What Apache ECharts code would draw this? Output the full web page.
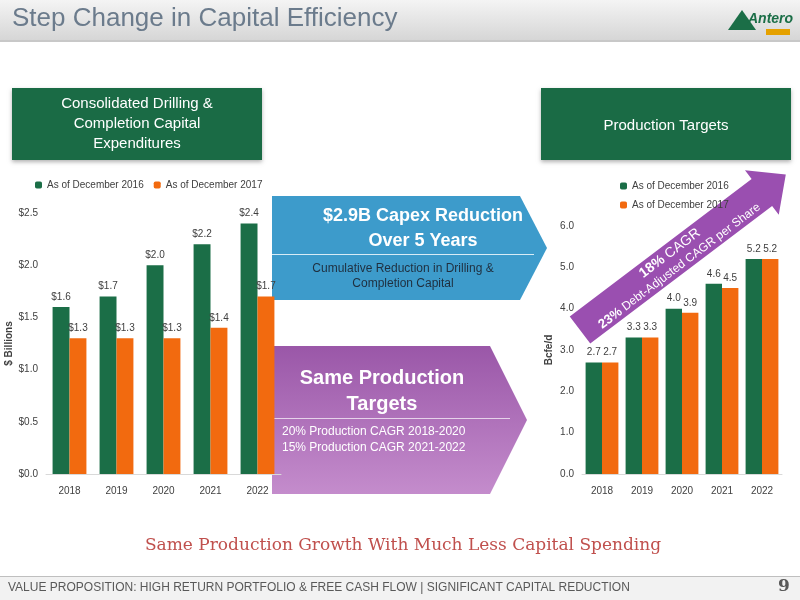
<!DOCTYPE html>
<html lang="en">
<head>
<meta charset="UTF-8">
<title>Step Change in Capital Efficiency</title>
<script src="https://cdn.jsdelivr.net/npm/echarts@6/dist/echarts.min.js"></script>
<style>
  body { margin: 0; }
  #chart { width: 800px; height: 600px; background: #fff; }
</style>
</head>
<body>
<div id="chart"></div>
<script>
var years = ['2018', '2019', '2020', '2021', '2022'];
var capex2016 = [1.6, 1.7, 2.0, 2.2, 2.4];
var capex2017 = [1.3, 1.3, 1.3, 1.4, 1.7];
var prod2016 = [2.7, 3.3, 4.0, 4.6, 5.2];
var prod2017 = [2.7, 3.3, 3.9, 4.5, 5.2];

var green = '#1b6e47', orange = '#f26a0f';
var font = 'Liberation Sans, Arial, sans-serif';

var myChart = echarts.init(document.getElementById('chart'));

function barLabel(fmt) {
  return { show: true, position: 'top', color: '#404040', fontSize: 10, fontFamily: font, formatter: fmt };
}
var dollar = function (p) { return '$' + p.value.toFixed(1); };
var plain = function (p) { return p.value.toFixed(1); };

// rotated purple arrow on the right chart
var ang = Math.atan2(155, 205);

var option = {
  animation: false,
  textStyle: { fontFamily: font },
  legend: [
    { left: 30, top: 175, itemWidth: 7, itemHeight: 7, itemGap: 10,
      textStyle: { fontSize: 10, color: '#404040' },
      data: ['As of December 2016', 'As of December 2017'] },
    { left: 615, top: 176, orient: 'vertical', itemWidth: 7, itemHeight: 7, itemGap: 9,
      textStyle: { fontSize: 10, color: '#404040' },
      data: ['As of December 2016 ', 'As of December 2017 '] }
  ],
  grid: [
    { left: 46, top: 213, width: 235, height: 261 },
    { left: 582, top: 226, width: 200, height: 248 }
  ],
  xAxis: [
    { type: 'category', gridIndex: 0, data: years,
      axisLine: { lineStyle: { color: '#d9d9d9' } }, axisTick: { show: false },
      axisLabel: { color: '#404040', fontSize: 10, margin: 12 } },
    { type: 'category', gridIndex: 1, data: years,
      axisLine: { lineStyle: { color: '#d9d9d9' } }, axisTick: { show: false },
      axisLabel: { color: '#404040', fontSize: 10, margin: 12 } }
  ],
  yAxis: [
    { type: 'value', gridIndex: 0, min: 0, max: 2.5, interval: 0.5,
      name: '$ Billions', nameLocation: 'middle', nameGap: 26,
      nameTextStyle: { fontSize: 10, fontWeight: 'bold', color: '#404040' },
      splitLine: { show: false }, axisLine: { show: false },
      axisLabel: { color: '#404040', fontSize: 10, formatter: function (v) { return '$' + v.toFixed(1); } } },
    { type: 'value', gridIndex: 1, min: 0, max: 6, interval: 1,
      name: 'Bcfe/d', nameLocation: 'middle', nameGap: 28,
      nameTextStyle: { fontSize: 10, fontWeight: 'bold', color: '#404040' },
      splitLine: { show: false }, axisLine: { show: false },
      axisLabel: { color: '#404040', fontSize: 10, formatter: function (v) { return v.toFixed(1); } } }
  ],
  series: [
    { name: 'As of December 2016', type: 'bar', xAxisIndex: 0, yAxisIndex: 0, data: capex2016,
      itemStyle: { color: green }, barGap: '0%', barCategoryGap: '28%', label: barLabel(dollar) },
    { name: 'As of December 2017', type: 'bar', xAxisIndex: 0, yAxisIndex: 0, data: capex2017,
      itemStyle: { color: orange }, label: barLabel(dollar) },
    { name: 'As of December 2016 ', type: 'bar', xAxisIndex: 1, yAxisIndex: 1, data: prod2016,
      itemStyle: { color: green }, barGap: '0%', barCategoryGap: '18%', label: barLabel(plain) },
    { name: 'As of December 2017 ', type: 'bar', xAxisIndex: 1, yAxisIndex: 1, data: prod2017,
      itemStyle: { color: orange }, label: barLabel(plain) }
  ],
  graphic: [
    // header
    { type: 'rect', shape: { x: 0, y: 0, width: 800, height: 40 }, z: -1,
      style: { fill: new echarts.graphic.LinearGradient(0, 0, 0, 1, [
        { offset: 0, color: '#f4f4f4' }, { offset: 1, color: '#d6d6d6' }]) } },
    { type: 'rect', shape: { x: 0, y: 40, width: 800, height: 2 }, style: { fill: '#c8c8c8' } },
    { type: 'text', left: 12, top: 6, style: { text: 'Step Change in Capital Efficiency',
      fill: '#6b7b8c', font: '26px ' + font } },
    { type: 'polygon', shape: { points: [[728, 30], [742, 10], [756, 30]] }, style: { fill: '#1b6e47' } },
    { type: 'text', left: 748, top: 12, style: { text: 'Antero', fill: '#1b6e47', font: 'italic bold 14px ' + font } },
    { type: 'rect', shape: { x: 766, y: 29, width: 24, height: 6 }, style: { fill: '#e5a100' } },

    // section boxes
    { type: 'rect', shape: { x: 12, y: 88, width: 250, height: 72 },
      style: { fill: '#1a6b45', shadowBlur: 4, shadowColor: 'rgba(0,0,0,0.3)', shadowOffsetY: 2 } },
    { type: 'text', x: 137, y: 124, style: { text: 'Consolidated Drilling &\nCompletion Capital\nExpenditures',
      fill: '#fff', font: '15px ' + font, align: 'center', verticalAlign: 'middle', lineHeight: 20 } },
    { type: 'rect', shape: { x: 541, y: 88, width: 250, height: 72 },
      style: { fill: '#1a6b45', shadowBlur: 4, shadowColor: 'rgba(0,0,0,0.3)', shadowOffsetY: 2 } },
    { type: 'text', x: 666, y: 126, style: { text: 'Production Targets',
      fill: '#fff', font: '15px ' + font, align: 'center', verticalAlign: 'middle' } },

    // blue arrow
    { type: 'polygon', shape: { points: [[272, 196], [520, 196], [547, 248], [520, 300], [272, 300]] },
      style: { fill: '#3d9bcb' } },
    { type: 'text', x: 423, y: 229, style: { text: '$2.9B Capex Reduction\nOver 5 Years',
      fill: '#fff', font: 'bold 18px ' + font, align: 'center', verticalAlign: 'middle', lineHeight: 25 } },
    { type: 'rect', shape: { x: 272, y: 254, width: 262, height: 1 }, style: { fill: '#d8ecf6' } },
    { type: 'text', x: 403, y: 276, style: { text: 'Cumulative Reduction in Drilling &\nCompletion Capital',
      fill: '#1f2f3f', font: '12px ' + font, align: 'center', verticalAlign: 'middle', lineHeight: 15 } },

    // purple arrow
    { type: 'polygon', shape: { points: [[272, 346], [490, 346], [527, 420], [490, 494], [272, 494]] },
      style: { fill: new echarts.graphic.LinearGradient(0, 0, 0, 1, [
        { offset: 0, color: '#9a57a8' }, { offset: 1, color: '#c48ccc' }]) } },
    { type: 'text', x: 382, y: 391, style: { text: 'Same Production\nTargets',
      fill: '#fff', font: 'bold 20px ' + font, align: 'center', verticalAlign: 'middle', lineHeight: 26 } },
    { type: 'rect', shape: { x: 272, y: 418, width: 238, height: 1 }, style: { fill: '#e6d2ea' } },
    { type: 'text', x: 282, y: 440, style: { text: '20% Production CAGR 2018-2020\n15% Production CAGR 2021-2022',
      fill: '#fff', font: '12px ' + font, verticalAlign: 'middle', lineHeight: 16 } },

    // diagonal CAGR arrow
    { type: 'group', x: 580, y: 330, rotation: ang, z: 10, children: [
      { type: 'polygon', shape: { points: [[0, -17], [228, -17], [228, -28], [258, 0], [228, 28], [228, 17], [0, 17]] },
        style: { fill: '#9a4fb0' } },
      { type: 'text', x: 118, y: -7, style: { text: '{b|18%} CAGR',
        fill: '#fff', font: '14px ' + font, align: 'center', verticalAlign: 'middle',
        rich: { b: { fontWeight: 'bold', fontSize: 14, fill: '#fff' } } } },
      { type: 'text', x: 118, y: 9, style: { text: '{b|23%} Debt-Adjusted CAGR per Share',
        fill: '#fff', font: '12px ' + font, align: 'center', verticalAlign: 'middle',
        rich: { b: { fontWeight: 'bold', fontSize: 13, fill: '#fff' } } } }
    ] },

    // tagline
    { type: 'text', x: 403, y: 546, style: { text: 'Same Production Growth With Much Less Capital Spending',
      fill: '#c0504d', font: '17px "DejaVu Serif", serif', align: 'center', verticalAlign: 'middle' } },

    // footer
    { type: 'rect', shape: { x: 0, y: 576, width: 800, height: 24 }, style: { fill: '#f2f2f2' } },
    { type: 'rect', shape: { x: 0, y: 576, width: 800, height: 1 }, style: { fill: '#bfbfbf' } },
    { type: 'text', left: 8, top: 582, style: { text: 'VALUE PROPOSITION: HIGH RETURN PORTFOLIO & FREE CASH FLOW | SIGNIFICANT CAPITAL REDUCTION',
      fill: '#595959', font: '12px ' + font } },
    { type: 'text', left: 778, top: 578, style: { text: '9', fill: '#595959', font: 'bold 17px "DejaVu Serif", serif' } }
  ]
};

myChart.setOption(option);
</script>
</body>
</html>
